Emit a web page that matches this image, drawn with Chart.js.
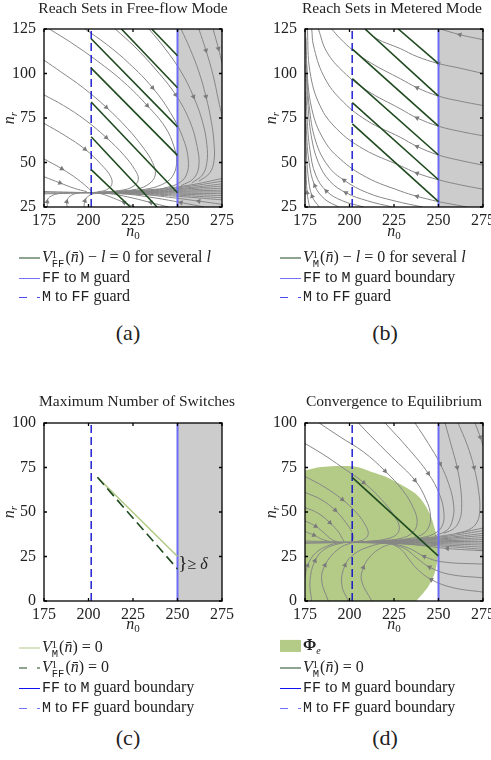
<!DOCTYPE html>
<html>
<head>
<meta charset="utf-8">
<script src="https://cdn.jsdelivr.net/npm/chart.js@4.4.0/dist/chart.umd.min.js"></script>
<style>
body { margin: 0; background: #fff; }
#fig { position: relative; width: 491px; height: 760px; overflow: hidden; font-family: "Liberation Serif", "DejaVu Serif", serif; color: #222; }
canvas { position: absolute; }
.t { position: absolute; white-space: nowrap; transform: translate(-50%, -50%); }
.title { font-size: 15.5px; }
.ax { font-size: 16px; font-style: italic; line-height: 16px; }
.ax sub { font-size: 11px; font-style: normal; vertical-align: -3px; }
.ax sub.it { font-style: italic; }
.rot { transform: translate(-50%, -50%) rotate(-90deg); }
.cap { font-size: 22px; }
.row { position: absolute; white-space: nowrap; transform: translateY(-50%); font-size: 16px; line-height: 18px; }
.smp { display: inline-block; width: 21px; vertical-align: middle; margin-right: 2px; }
.tt { font-family: "Liberation Mono", "DejaVu Sans Mono", monospace; font-size: 15px; }
.ss { display: inline-block; vertical-align: -5px; line-height: 9px; font-size: 10.5px; text-align: left; margin-right: 1px; }
.ss .tt { font-size: 10.5px; }
</style>
</head>
<body>
<div id="fig">
  <canvas id="ca" width="245" height="240" style="left:0;top:0"></canvas>
  <canvas id="cb" width="246" height="240" style="left:245px;top:0"></canvas>
  <canvas id="cc" width="245" height="240" style="left:0;top:394px"></canvas>
  <canvas id="cd" width="246" height="240" style="left:245px;top:394px"></canvas>

  <div class="t title" style="left:133px;top:8px">Reach Sets in Free-flow Mode</div>
  <div class="t title" style="left:392px;top:8px">Reach Sets in Metered Mode</div>
  <div class="t title" style="left:137px;top:401px">Maximum Number of Switches</div>
  <div class="t title" style="left:394px;top:401px">Convergence to Equilibrium</div>

  <div class="t ax" style="left:133px;top:233px">n<sub>0</sub></div>
  <div class="t ax" style="left:394px;top:233px">n<sub>0</sub></div>
  <div class="t ax" style="left:133px;top:626px">n<sub>0</sub></div>
  <div class="t ax" style="left:394px;top:626px">n<sub>0</sub></div>
  <div class="t ax rot" style="left:11px;top:118px">n<sub class="it">r</sub></div>
  <div class="t ax rot" style="left:273px;top:118px">n<sub class="it">r</sub></div>
  <div class="t ax rot" style="left:11px;top:512px">n<sub class="it">r</sub></div>
  <div class="t ax rot" style="left:273px;top:512px">n<sub class="it">r</sub></div>

  <div class="t" style="left:193px;top:563px;font-size:16px"><span style="font-size:19px">}</span>&#8805; <i>&#948;</i></div>

  <!-- legend (a) -->
  <div class="row" style="left:19px;top:258px"><span class="smp" style="border-top:1.5px solid #1f4a1f"></span><i>V</i><span class="ss">1<br><span class="tt">FF</span></span>(<i>n&#772;</i>) &#8722; <i>l</i> = 0 for several <i>l</i></div>
  <div class="row" style="left:19px;top:278px"><span class="smp" style="border-top:1.5px solid #7373f7"></span><span class="tt">FF</span> to <span class="tt">M</span> guard</div>
  <div class="row" style="left:19px;top:297px"><span class="smp" style="height:1.5px;background:repeating-linear-gradient(to right,#4a4af0 0 8px,transparent 8px 18px)"></span><span class="tt">M</span> to <span class="tt">FF</span> guard</div>
  <!-- legend (b) -->
  <div class="row" style="left:280px;top:258px"><span class="smp" style="border-top:1.5px solid #1f4a1f"></span><i>V</i><span class="ss">1<br><span class="tt">M</span></span>(<i>n&#772;</i>) &#8722; <i>l</i> = 0 for several <i>l</i></div>
  <div class="row" style="left:280px;top:278px"><span class="smp" style="border-top:1.5px solid #7373f7"></span><span class="tt">FF</span> to <span class="tt">M</span> guard boundary</div>
  <div class="row" style="left:280px;top:297px"><span class="smp" style="height:1.5px;background:repeating-linear-gradient(to right,#4a4af0 0 8px,transparent 8px 18px)"></span><span class="tt">M</span> to <span class="tt">FF</span> guard</div>
  <!-- legend (c) -->
  <div class="row" style="left:19px;top:648px"><span class="smp" style="border-top:1.5px solid #b3cb86"></span><i>V</i><span class="ss">1<br><span class="tt">M</span></span>(<i>n&#772;</i>) = 0</div>
  <div class="row" style="left:19px;top:668px"><span class="smp" style="height:1.5px;background:repeating-linear-gradient(to right,#1f4a1f 0 8px,transparent 8px 18px)"></span><i>V</i><span class="ss">1<br><span class="tt">FF</span></span>(<i>n&#772;</i>) = 0</div>
  <div class="row" style="left:19px;top:688px"><span class="smp" style="border-top:1.5px solid #1010f0"></span><span class="tt">FF</span> to <span class="tt">M</span> guard boundary</div>
  <div class="row" style="left:19px;top:708px"><span class="smp" style="height:1.5px;background:repeating-linear-gradient(to right,#7373f7 0 8px,transparent 8px 18px)"></span><span class="tt">M</span> to <span class="tt">FF</span> guard boundary</div>
  <!-- legend (d) -->
  <div class="row" style="left:280px;top:648px"><span class="smp" style="height:12px;background:#b3cb86"></span><b>&#934;</b><sub style="font-size:10px"><i>e</i></sub></div>
  <div class="row" style="left:280px;top:668px"><span class="smp" style="border-top:1.5px solid #1f4a1f"></span><i>V</i><span class="ss">1<br><span class="tt">M</span></span>(<i>n&#772;</i>) = 0</div>
  <div class="row" style="left:280px;top:688px"><span class="smp" style="border-top:1.5px solid #1010f0"></span><span class="tt">FF</span> to <span class="tt">M</span> guard boundary</div>
  <div class="row" style="left:280px;top:708px"><span class="smp" style="height:1.5px;background:repeating-linear-gradient(to right,#7373f7 0 8px,transparent 8px 18px)"></span><span class="tt">M</span> to <span class="tt">FF</span> guard boundary</div>

  <div class="t cap" style="left:128px;top:333px">(a)</div>
  <div class="t cap" style="left:385px;top:333px">(b)</div>
  <div class="t cap" style="left:128px;top:738px">(c)</div>
  <div class="t cap" style="left:385px;top:738px">(d)</div>
</div>

<script>
// axes
const xTicks = [175, 200, 225, 250, 275];
const yTicksHigh = [25, 50, 75, 100, 125];
const yTicksLow = [0, 25, 50, 75, 100];

// guards (n0 values)
const guardFF = 250;   // FF to M
const guardM = 201.5;  // M to FF

// (a) level sets V_FF - l = 0, [n0, nr] end points
const levelA = [
    [[235.5, 125], [250, 110]],
    [[218.5, 125], [250, 92]],
    [[201.5, 119.5], [250, 70]],
    [[201.5, 103], [250, 54]],
    [[201.5, 84], [250, 33]],
    [[201.5, 64.5], [238.5, 25]],
    [[201.5, 46], [223.5, 25]],
];

// (a) free-flow trajectories, in flow direction
const flowA = [
    [[178, 125], [190, 117.5], [205, 107], [220, 95], [233, 82], [243, 70], [248, 59], [249.5, 50], [247, 42], [241, 37.5], [232, 35], [220, 33.8]],
    [[198, 125], [210, 116.5], [223, 105.5], [236, 92], [246, 78], [253, 64], [256, 52], [255, 43], [250, 38], [242, 35.5]],
    [[215, 125], [226, 115], [238, 102], [249, 88], [257, 73], [261, 59], [262, 48], [259, 41], [252, 37]],
    [[234, 125], [243, 114], [252, 101], [259, 87], [264, 73], [266.5, 60], [266.5, 50], [264, 43], [258, 38.5]],
    [[252, 125], [257, 114], [262, 101], [266, 87], [269, 73], [270.5, 61], [270.5, 51], [268, 44], [262, 39.5]],
    [[262, 125], [266, 113], [270, 99], [273, 85], [275, 76]],
    [[270, 125], [273, 114], [275, 106]],
    [[175, 107.5], [184.4, 101], [197, 92], [210, 81], [222, 69], [231, 58], [236, 50], [237.5, 43], [234, 38], [227, 35], [215, 33.8]],
    [[175, 88], [186, 82], [198, 74], [210, 64], [220, 54], [226, 46], [228, 40.5], [225, 36.5], [218, 34.3], [208, 33.4]],
    [[175, 72], [187, 65], [198, 57.5], [207, 49], [212.5, 42], [213, 37.5], [210, 34.6], [205, 33.5]],
    [[175, 52], [185, 46.5], [194, 40.5], [200, 35.5], [202, 33.6]],
    [[175, 42], [184, 38.5], [192, 35.5], [199, 33.6]],
    [[177, 25], [176.8, 28], [178, 30.5], [183, 32.5], [191, 33.2]],
    [[188, 25], [187.8, 28], [189.5, 31], [194, 32.8], [199, 33.1]],
    [[197.5, 25], [198, 28.5], [200, 31.2], [204, 32.9]],
    [[226, 25], [220, 27.5], [214, 30], [208, 32.2], [203, 33]],
    [[245, 25], [235, 27.5], [225, 30], [214, 32.2], [205, 33]],
    [[265, 25], [252, 27.5], [238, 30], [222, 32.2], [208, 33]],
    [[275, 26.5], [262, 28.3], [245, 30.5], [228, 32.3], [212, 33]],
];

// slow band around nr = 33 shared by (a) and (d)
const band = [
    [[275, 41], [258, 37.5], [240, 35.2], [220, 33.9], [201, 33.1]],
    [[275, 39.5], [258, 36.8], [240, 34.9], [220, 33.7], [201, 33.1]],
    [[275, 38], [258, 36], [240, 34.5], [220, 33.5], [201, 33]],
    [[275, 36.8], [258, 35.4], [240, 34.2], [220, 33.4], [201, 33]],
    [[275, 35.6], [258, 34.7], [240, 33.9], [220, 33.3], [201, 33]],
    [[275, 34.5], [258, 34], [240, 33.6], [220, 33.2], [201, 33]],
    [[275, 33.5], [258, 33.4], [240, 33.2], [220, 33.1], [201, 33]],
    [[275, 32.5], [258, 32.7], [240, 32.9], [220, 33], [201, 33]],
    [[275, 31.4], [258, 32], [240, 32.5], [220, 32.8], [201, 33]],
    [[275, 30.2], [258, 31.2], [240, 32.1], [220, 32.6], [201, 33]],
    [[275, 29], [258, 30.4], [240, 31.6], [220, 32.4], [201, 32.9]],
    [[175, 33.7], [190, 33.3], [201, 33]],
    [[175, 32.4], [190, 32.7], [201, 33]],
    [[175, 33], [201, 33]],
];

// (b) level sets V_M - l = 0
const levelB = [
    [[227.4, 125], [250, 105.6]],
    [[208.7, 125], [250, 87.3]],
    [[201.6, 113.7], [250, 70.4]],
    [[201.6, 97.1], [250, 54.2]],
    [[201.6, 83.6], [250, 40.3]],
    [[201.6, 71.7], [250, 28]],
];

// (b) metered trajectories, in flow direction
const flowB = [
    [[275, 119], [262, 121.8], [251, 125]],
    [[275, 100], [262, 103], [250, 105.6], [238, 109.5], [228.5, 114], [215, 119.7], [208.8, 125]],
    [[275, 82], [262, 84.5], [250, 87.3], [238, 92], [228.5, 97.1], [212.5, 105.6], [202, 113], [194.7, 119.7], [190, 125]],
    [[275, 65], [262, 67.5], [250, 70.4], [238, 75], [228.5, 80.2], [209.7, 90.5], [196.6, 100.9], [187.2, 112.2], [182.5, 125]],
    [[275, 48.5], [262, 51.2], [250, 54.2], [238, 59], [228.5, 64.2], [209.7, 73.6], [194.7, 85.8], [185.3, 99], [179.7, 116], [178.8, 125]],
    [[275, 35], [262, 37.5], [250, 40.3], [238, 44], [228.5, 48.2], [207.8, 57.6], [192.8, 68.9], [183.4, 82], [177.8, 100.9], [176.3, 125]],
    [[266, 25], [258, 26.5], [250, 28], [238, 31], [228.5, 34], [209.7, 41.6], [194.7, 52], [185.3, 63.2], [178.8, 80.2], [175.9, 104.7], [175.3, 125]],
    [[241, 25], [225, 28.5], [210, 33], [197, 40], [188, 48], [181, 62], [177.3, 82], [176.2, 100], [175.5, 120]],
    [[224, 25], [210, 28.5], [198, 33], [189, 39.5], [182.5, 50], [178.5, 65], [176.5, 85], [175.5, 105]],
    [[208, 25], [196, 28.5], [187, 34], [181, 43], [177.8, 57], [176.2, 75], [175.3, 100]],
    [[194, 25], [186, 29.5], [180.5, 37], [177.3, 50], [175.8, 68], [175.2, 90]],
    [[183, 25], [179, 31], [176.8, 42], [175.7, 58], [175.1, 80]],
    [[177.5, 25], [176.2, 33], [175.4, 48]],
];

// (c) zero level sets
const zeroM = [[205, 69.5], [250, 25]];
const zeroFF = [[205, 69.5], [250, 18]];

// (d) zero level set, equilibrium region outline and trajectories
const zeroMd = [[201.5, 69.5], [249.8, 25.4]];
const phiE = [
    [160, 72], [175, 73.4], [182, 75], [190, 75.7], [197, 75.8], [205, 75.2], [212.5, 72.5], [220, 70], [227, 66.5],
    [233, 63], [238.5, 59], [242.4, 54], [245.5, 48], [247.5, 42], [249, 36], [249.6, 30], [249.4, 24], [248.5, 18],
    [246.8, 13], [244.5, 8.5], [241.5, 4.5], [238, 0.5], [236, -3], [160, -20],
];
const flowD = [
    [[183, 100], [195, 92], [207.8, 83.8], [220, 73], [230, 62], [236, 52], [238, 44], [235.5, 38.5], [229, 35.2], [218, 33.8]],
    [[205, 100], [211.5, 93.2], [223.7, 81], [236.8, 67.8], [243, 57], [245.5, 48], [244, 40.5], [239, 36.5], [230, 34.5]],
    [[220, 100], [233, 85.7], [244.3, 71.6], [250.5, 60], [253, 50], [252, 42], [247, 37.5], [239, 35.2]],
    [[236.8, 100], [244.3, 88.5], [251, 77], [256, 65], [258.5, 54], [258, 46], [255, 40], [248, 36.6]],
    [[253.7, 100], [257, 88], [260.5, 75], [262.5, 63], [263, 52], [262, 46], [259, 41], [253, 38]],
    [[261, 100], [266, 88], [270, 75], [272.5, 62], [273.2, 51], [271.5, 44], [267, 40], [260, 38]],
    [[270.5, 100], [273.5, 92], [275, 87]],
    [[175, 88.5], [185, 82.5], [195.6, 75.3], [208, 66.5], [218, 57], [225, 48], [228, 41.5], [226, 37], [219, 34.5], [209, 33.4]],
    [[175, 70], [186, 64], [196, 57], [204, 49.5], [209, 42.5], [210.5, 37.5], [208, 34.5], [204, 33.4]],
    [[175, 61], [184, 57], [192, 51], [198, 44], [201.5, 38.5], [202, 35], [201, 33.6]],
    [[175, 52.5], [182, 49.5], [189, 44], [194, 38.5], [196, 35], [197, 33.5]],
    [[175, 45], [181, 42], [186, 38], [190, 34.5], [193, 33.4]],
    [[175, 39], [180, 37], [185, 34.5], [189, 33.4]],
    [[175, 13], [176.5, 20], [181, 27], [189, 31.5], [197, 33]],
    [[178.7, 0], [177.8, 11.3], [180.6, 22.6], [186.2, 29.2], [195.6, 32.5], [201, 33]],
    [[188.1, 0], [184.4, 11.3], [186.2, 20.1], [193.7, 29.2], [201.2, 32.6], [206, 33]],
    [[199.3, 0], [195.6, 9.4], [197.5, 20.1], [203, 26.7], [212.5, 31], [220, 32.8]],
    [[212.5, 0], [206.8, 11.3], [207.8, 18.8], [212, 25.4], [218, 30], [224, 32.3]],
    [[275, 28.2], [255, 29.5], [240, 31.2], [225, 32.5], [208, 33]],
    [[275, 20.7], [252, 22], [242, 25], [233, 29.8], [222, 32.4], [210, 33]],
    [[275, 13], [256, 15], [245, 19], [238, 24], [231, 29.5], [222, 32.2], [212, 33]],
    [[275, 5], [258, 7.5], [246, 12], [238, 18], [233, 24], [229, 29], [224, 32]],
];

const C = {
    flow: '#878787',
    dark: '#1f4a1f',
    light: '#b3cb86',
    blue: '#6b6bf4',
    dash: '#0000cc',
    region: '#cccccc',
};

const serif = '"Liberation Serif", "DejaVu Serif", serif';

function xy(pts) {
    return pts.map(([x, y]) => ({ x, y }));
}

function arrowRadius(c) {
    if (c.type !== 'data' || !c.dataset.arrow) return 0;
    const n = c.dataset.data.length;
    return c.dataIndex === Math.max(1, Math.floor(n / 3)) ? 3 : 0;
}

function arrowRotation(c) {
    if (c.type !== 'data') return 0;
    const d = c.dataset.data, i = c.dataIndex;
    const sx = c.chart.scales.x, sy = c.chart.scales.y;
    const a = d[Math.max(0, i - 1)], b = d[Math.min(d.length - 1, i + 1)];
    const dx = sx.getPixelForValue(b.x) - sx.getPixelForValue(a.x);
    const dy = sy.getPixelForValue(b.y) - sy.getPixelForValue(a.y);
    return Math.atan2(dy, dx) * 180 / Math.PI + 90;
}

function line(pts, color, width, extra) {
    return Object.assign({
        data: xy(pts),
        showLine: true,
        borderColor: color,
        backgroundColor: color,
        borderWidth: width,
        pointRadius: 0,
        fill: false,
        tension: 0,
    }, extra);
}

function flow(pts, arrow) {
    return line(pts, C.flow, 1, {
        tension: 0.4,
        arrow: arrow,
        pointStyle: 'triangle',
        pointRadius: arrowRadius,
        pointRotation: arrowRotation,
        pointBackgroundColor: '#7a7a7a',
        pointBorderWidth: 0,
        order: 5,
    });
}

function guards(yMin, yMax) {
    return [
        line([[guardFF, yMax], [275, yMax]], C.region, 0, { fill: { value: yMin }, backgroundColor: C.region, order: 10, clip: 0 }),
        line([[guardFF, yMin], [guardFF, yMax]], C.blue, 2, { order: 2 }),
        line([[guardM, yMin], [guardM, yMax]], C.dash, 1.3, { borderDash: [8, 4], order: 3 }),
    ];
}

const frame = {
    id: 'frame',
    afterDatasetsDraw(chart) {
        const { ctx, chartArea: a, scales: { x, y } } = chart;
        ctx.save();
        ctx.strokeStyle = '#000';
        ctx.lineWidth = 1.3;
        ctx.strokeRect(a.left, a.top, a.right - a.left, a.bottom - a.top);
        ctx.beginPath();
        x.ticks.forEach(t => {
            const p = x.getPixelForValue(t.value);
            ctx.moveTo(p, a.bottom); ctx.lineTo(p, a.bottom - 3);
            ctx.moveTo(p, a.top); ctx.lineTo(p, a.top + 3);
        });
        y.ticks.forEach(t => {
            const p = y.getPixelForValue(t.value);
            ctx.moveTo(a.left, p); ctx.lineTo(a.left + 3, p);
            ctx.moveTo(a.right, p); ctx.lineTo(a.right - 3, p);
        });
        ctx.stroke();
        ctx.restore();
    }
};

function makeChart(id, yTicks, leftW, rightPad, datasets) {
    const yMin = yTicks[0], yMax = yTicks[yTicks.length - 1];
    return new Chart(document.getElementById(id), {
        type: 'scatter',
        data: { datasets: datasets.concat(guards(yMin, yMax)) },
        options: {
            responsive: false,
            animation: false,
            devicePixelRatio: 1,
            layout: { padding: { left: 0, top: 29, right: rightPad, bottom: 13 } },
            plugins: { legend: { display: false }, tooltip: { enabled: false } },
            scales: {
                x: {
                    type: 'linear', min: xTicks[0], max: xTicks[xTicks.length - 1],
                    grid: { display: false, drawTicks: false }, border: { display: false },
                    ticks: { color: '#222', padding: 4, maxRotation: 0, font: { family: serif, size: 16 } },
                    afterBuildTicks: s => { s.ticks = xTicks.map(v => ({ value: v })); },
                    afterFit: s => { s.height = 20; s.paddingLeft = 0; s.paddingRight = 0; },
                },
                y: {
                    type: 'linear', min: yMin, max: yMax,
                    grid: { display: false, drawTicks: false }, border: { display: false },
                    ticks: { color: '#222', padding: 8, font: { family: serif, size: 16 } },
                    afterBuildTicks: s => { s.ticks = yTicks.map(v => ({ value: v })); },
                    afterFit: s => { s.width = leftW; s.paddingTop = 0; s.paddingBottom = 0; },
                },
            },
        },
        plugins: [frame],
    });
}

// (a)
makeChart('ca', yTicksHigh, 44, 23, [].concat(
    levelA.map(p => line(p, C.dark, 1.6, { order: 1 })),
    flowA.map(p => flow(p, true)),
    band.map(p => flow(p, false)),
));

// (b)
makeChart('cb', yTicksHigh, 60, 8, [].concat(
    levelB.map(p => line(p, C.dark, 1.6, { order: 1 })),
    flowB.map(p => flow(p, true)),
));

// (c)
makeChart('cc', yTicksLow, 44, 23, [
    line(zeroFF, C.dark, 1.6, { borderDash: [10, 5], order: 0 }),
    line(zeroM, C.light, 1.6, { order: 1 }),
]);

// (d)
makeChart('cd', yTicksLow, 60, 8, [].concat(
    [line(zeroMd, C.dark, 1.6, { order: 1 })],
    flowD.map(p => flow(p, true)),
    band.map(p => flow(p, false)),
    [line(phiE, C.light, 0, { fill: 'shape', backgroundColor: C.light, tension: 0.35, order: 8, clip: 0 })],
));
</script>
</body>
</html>
